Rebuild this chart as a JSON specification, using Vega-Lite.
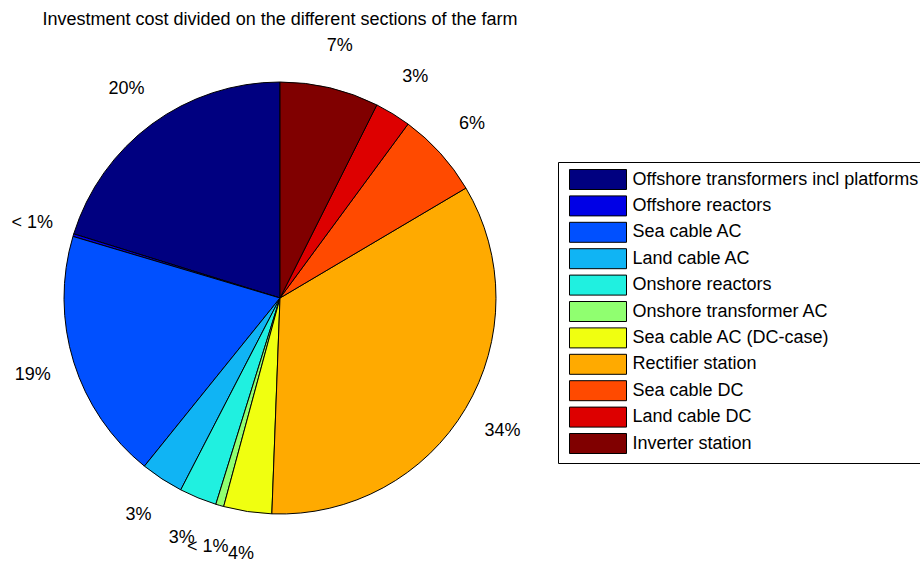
{
  "$schema": "https://vega.github.io/schema/vega-lite/v6.json",
  "autosize": "none",
  "width": 560,
  "height": 530,
  "padding": {"left": 0, "top": 33, "right": 360, "bottom": 0},
  "background": "white",
  "title": {
    "text": "Investment cost divided on the different sections of the farm",
    "font": "Liberation Sans",
    "fontSize": 18,
    "fontWeight": "normal",
    "color": "black",
    "anchor": "middle",
    "offset": 4
  },
  "config": {"view": {"stroke": null}},
  "data": {
    "values": [
      {"section": "Offshore transformers incl platforms", "share": 20.2, "label": "20%", "order": 11},
      {"section": "\u00a0Offshore reactors", "share": 0.2, "label": "< 1%", "order": 10},
      {"section": "Sea cable AC", "share": 18.8, "label": "19%", "order": 9},
      {"section": "Land cable AC", "share": 3.2, "label": "3%", "order": 8},
      {"section": "Onshore reactors", "share": 2.8, "label": "3%", "order": 7},
      {"section": "Onshore transformer AC", "share": 0.6, "label": "< 1%", "order": 6},
      {"section": "\u00a0Sea cable AC (DC-case)", "share": 3.6, "label": "4%", "order": 5},
      {"section": "Rectifier station", "share": 34.1, "label": "34%", "order": 4},
      {"section": "Sea cable DC", "share": 6.4, "label": "6%", "order": 3},
      {"section": "Land cable DC", "share": 2.7, "label": "3%", "order": 2},
      {"section": "Inverter station", "share": 7.4, "label": "7%", "order": 1}
    ]
  },
  "encoding": {
    "theta": {"field": "share", "type": "quantitative", "stack": true},
    "order": {"field": "order", "type": "quantitative", "sort": "ascending"}
  },
  "layer": [
    {
      "mark": {"type": "arc", "outerRadius": 216, "stroke": "black", "strokeWidth": 1},
      "encoding": {
        "color": {
          "field": "section",
          "type": "nominal",
          "scale": {
            "domain": ["Offshore transformers incl platforms", "\u00a0Offshore reactors", "Sea cable AC", "Land cable AC", "Onshore reactors", "Onshore transformer AC", "\u00a0Sea cable AC (DC-case)", "Rectifier station", "Sea cable DC", "Land cable DC", "Inverter station"],
            "range": ["#000080", "#0000E6", "#0050FF", "#10B4F4", "#20F0E0", "#90FF70", "#F0FF10", "#FFAA00", "#FF4A00", "#DD0000", "#800000"]
          },
          "legend": {
            "title": null,
            "orient": "none",
            "legendX": 558,
            "legendY": 129,
            "padding": 7,
            "fillColor": "white",
            "strokeColor": "black",
            "symbolType": "M-2.85,-1H2.85V1H-2.85Z",
            "symbolSize": 400,
            "symbolOffset": 22.5,
            "symbolStrokeColor": "black",
            "symbolStrokeWidth": 1,
            "symbolOpacity": 1,
            "labelOffset": 24,
            "labelFont": "Liberation Sans",
            "labelFontSize": 18,
            "labelColor": "black",
            "labelLimit": 400,
            "rowPadding": 1.4
          }
        }
      }
    },
    {
      "mark": {"type": "text", "radius": 259, "font": "Liberation Sans", "fontSize": 18, "color": "black", "align": "center", "baseline": "middle"},
      "encoding": {
        "text": {"field": "label", "type": "nominal"}
      }
    }
  ]
}
